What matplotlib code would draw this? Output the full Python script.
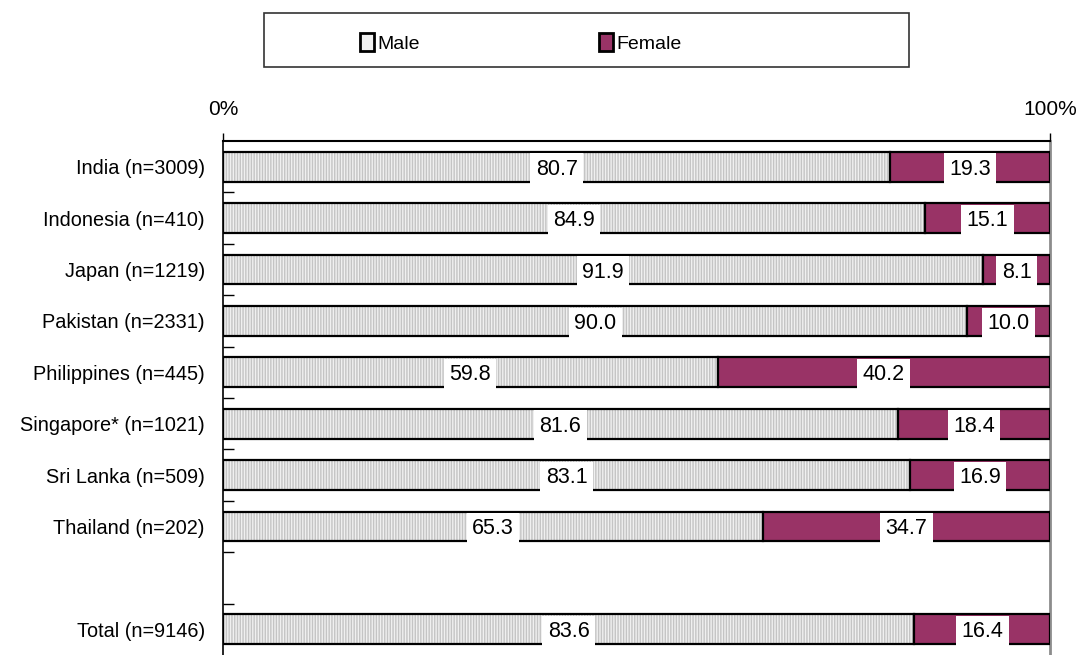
import matplotlib.pyplot as plt
from matplotlib.patches import Patch, Rectangle

plt.rcParams['font.family'] = ['Liberation Sans', 'DejaVu Sans']

# gender split per country, percent
countries = ['India (n=3009)', 'Indonesia (n=410)', 'Japan (n=1219)',
             'Pakistan (n=2331)', 'Philippines (n=445)', 'Singapore* (n=1021)',
             'Sri Lanka (n=509)', 'Thailand (n=202)', 'Total (n=9146)']
male = [80.7, 84.9, 91.9, 90.0, 59.8, 81.6, 83.1, 65.3, 83.6]
female = [19.3, 15.1, 8.1, 10.0, 40.2, 18.4, 16.9, 34.7, 16.4]
# one empty slot before the total row
rows = [0, 1, 2, 3, 4, 5, 6, 7, 9]

MALE_FILL = '#f0f0f0'
FEMALE_FILL = '#993366'

fig = plt.figure(figsize=(10.83, 6.55), dpi=100)
ax = fig.add_axes([223/1083, 0, 827/1083, (655-141)/655])

h = 0.58
# hatched male fill first, edges drawn on top separately
ax.barh(rows, male, height=h, color=MALE_FILL, edgecolor='#c4c4c4',
        hatch='||||||', linewidth=0, zorder=2)
ax.barh(rows, male, height=h, facecolor='none', edgecolor='black',
        linewidth=1.6, zorder=3)
ax.barh(rows, female, left=male, height=h, color=FEMALE_FILL,
        edgecolor='black', linewidth=1.6, zorder=3)

lab = dict(ha='center', va='center_baseline', fontsize=15.5, zorder=5,
           bbox=dict(facecolor='white', edgecolor='none',
                     boxstyle='square,pad=0.25'))
for r, m, f in zip(rows, male, female):
    ax.text(m / 2, r, f'{m:.1f}', **lab)
    ax.text(m + f / 2, r, f'{f:.1f}', **lab)

ax.set_xlim(0, 100)
ax.set_ylim(9.5, -0.5)

ax.xaxis.tick_top()
ax.set_xticks([0, 100])
ax.set_xticklabels(['0%', '100%'], fontsize=15)
ax.tick_params(axis='x', direction='out', length=6, width=1, pad=10)

ax.set_yticks(rows)
ax.set_yticklabels(countries, fontsize=14.3, va='center_baseline')
ax.set_yticks([r + 0.5 for r in range(9)], minor=True)
ax.tick_params(axis='y', which='major', length=0, pad=13)
ax.tick_params(axis='y', which='minor', direction='in', length=8, width=1)

ax.spines['top'].set_linewidth(1.5)
ax.spines['left'].set_linewidth(1.2)
ax.spines['bottom'].set_visible(False)
ax.spines['right'].set_color('#8c8c8c')
ax.spines['right'].set_linewidth(2)

# legend in its own framed box above the chart
frame = Rectangle((264/1083, 1 - 67/655), (909-264)/1083, (67-13)/655,
                  transform=fig.transFigure, facecolor='white',
                  edgecolor='#333333', linewidth=1.2)
fig.patches.append(frame)
handles = [Patch(facecolor=MALE_FILL, edgecolor='black', linewidth=2),
           Patch(facecolor=FEMALE_FILL, edgecolor='black', linewidth=2)]
fig.legend(handles, ['Male', 'Female'], loc='center',
           bbox_to_anchor=(521/1083, 1 - 43/655), ncol=2, frameon=False,
           fontsize=14, handlelength=0.7, handleheight=1.0,
           handletextpad=0.2, columnspacing=9.2)

fig.savefig('out.png', dpi=100)
